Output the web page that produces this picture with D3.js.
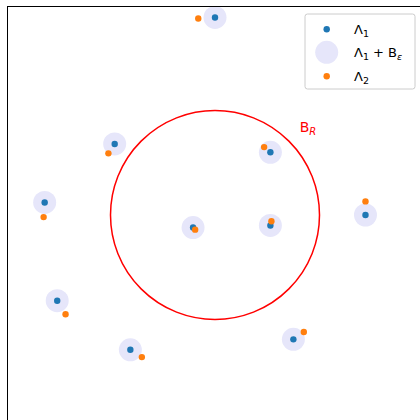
<!DOCTYPE html>
<html>
<head>
<meta charset="utf-8">
<script src="https://cdn.jsdelivr.net/npm/d3@7"></script>
<style>
  body { margin: 0; background: #fff; }
  text { font-family: "DejaVu Sans", sans-serif; }
</style>
</head>
<body>
<div id="chart"></div>
<script>
// lattice points, in units of R
var lambda1X = [0.00, -0.96, 0.53, -1.63, -0.21, 0.53, 1.44, -1.51, -0.81, 0.75];
var lambda1Y = [1.89, 0.68, 0.60, 0.12, -0.12, -0.10, 0.00, -0.82, -1.29, -1.19];
var lambda2X = [-0.16, -1.02, 0.47, -1.64, -0.19, 0.54, 1.44, -1.43, -0.70, 0.85];
var lambda2Y = [1.88, 0.59, 0.65, -0.02, -0.14, -0.06, 0.13, -0.95, -1.36, -1.12];
var ballR = 1;
var eps = 0.11;
var legendLabels = ["Λ1", "Λ1 + Bε", "Λ2"];

var width = 420, height = 420;
var svg = d3.select("#chart").append("svg")
    .attr("width", width)
    .attr("height", height);

var x = d3.scaleLinear().domain([-2, 2]).range([6, 424]);
var y = d3.scaleLinear().domain([-2, 2]).range([424, 6]);
var px = function(v) { return x(v) - x(0); };

var pts1 = lambda1X.map(function(d, i) { return {x: d, y: lambda1Y[i]}; });
var pts2 = lambda2X.map(function(d, i) { return {x: d, y: lambda2Y[i]}; });

// title, mostly clipped above the frame
svg.append("text")
    .attr("x", 306).attr("y", -1)
    .attr("text-anchor", "middle")
    .style("font-size", "12px")
    .attr("fill", "#222")
    .text("(a)");

var plot = svg.append("g");

plot.selectAll(".eps").data(pts1).enter().append("circle")
    .attr("class", "eps")
    .attr("cx", function(d) { return x(d.x); })
    .attr("cy", function(d) { return y(d.y); })
    .attr("r", px(eps))
    .attr("fill", "#e6e6fa");

plot.append("circle")
    .attr("cx", x(0)).attr("cy", y(0))
    .attr("r", px(ballR))
    .attr("fill", "none")
    .attr("stroke", "red")
    .attr("stroke-width", 1.5);

plot.selectAll(".l1").data(pts1).enter().append("circle")
    .attr("class", "l1")
    .attr("cx", function(d) { return x(d.x); })
    .attr("cy", function(d) { return y(d.y); })
    .attr("r", 3.2)
    .attr("fill", "#1f77b4");

plot.selectAll(".l2").data(pts2).enter().append("circle")
    .attr("class", "l2")
    .attr("cx", function(d) { return x(d.x); })
    .attr("cy", function(d) { return y(d.y); })
    .attr("r", 3.2)
    .attr("fill", "#ff7f0e");

// B_R label
var br = svg.append("text")
    .attr("x", x(0.81)).attr("y", y(0.79))
    .attr("fill", "red")
    .style("font-size", "14px");
br.append("tspan").text("B");
br.append("tspan").attr("dy", 3).style("font-size", "10px").style("font-style", "italic").text("R");

// frame (right and bottom edges lie outside the window)
svg.append("rect")
    .attr("x", 7.5).attr("y", 6.5)
    .attr("width", 420).attr("height", 420)
    .attr("fill", "none")
    .attr("stroke", "#000")
    .attr("stroke-width", 1);

// legend
var lg = svg.append("g").attr("transform", "translate(305,14)");
lg.append("rect")
    .attr("x", 0).attr("y", 0)
    .attr("width", 110).attr("height", 75)
    .attr("rx", 2.5)
    .attr("fill", "#fff").attr("fill-opacity", 0.8)
    .attr("stroke", "#ccc").attr("stroke-width", 1);

var rows = [15.3, 38.3, 62.3];
lg.append("circle").attr("cx", 21.7).attr("cy", rows[0]).attr("r", 3.2).attr("fill", "#1f77b4");
lg.append("circle").attr("cx", 21.7).attr("cy", rows[1]).attr("r", 11.5).attr("fill", "#e6e6fa");
lg.append("circle").attr("cx", 21.7).attr("cy", rows[2]).attr("r", 3.2).attr("fill", "#ff7f0e");

function label(t, row, parts) {
  var tx = lg.append("text").attr("x", 49).attr("y", rows[row] + 4.5)
      .style("font-size", "13px").attr("fill", "#000");
  parts.forEach(function(p) {
    var s = tx.append("tspan").text(p.t);
    if (p.sub) s.attr("dy", 3).style("font-size", "9.5px");
    if (p.up) s.attr("dy", -3);
    if (p.it) s.style("font-style", "italic");
  });
}
label(legendLabels[0], 0, [{t: "Λ"}, {t: "1", sub: true}]);
label(legendLabels[1], 1, [{t: "Λ"}, {t: "1", sub: true}, {t: " + B", up: true}, {t: "ε", sub: true, it: true}]);
label(legendLabels[2], 2, [{t: "Λ"}, {t: "2", sub: true}]);
</script>
</body>
</html>
